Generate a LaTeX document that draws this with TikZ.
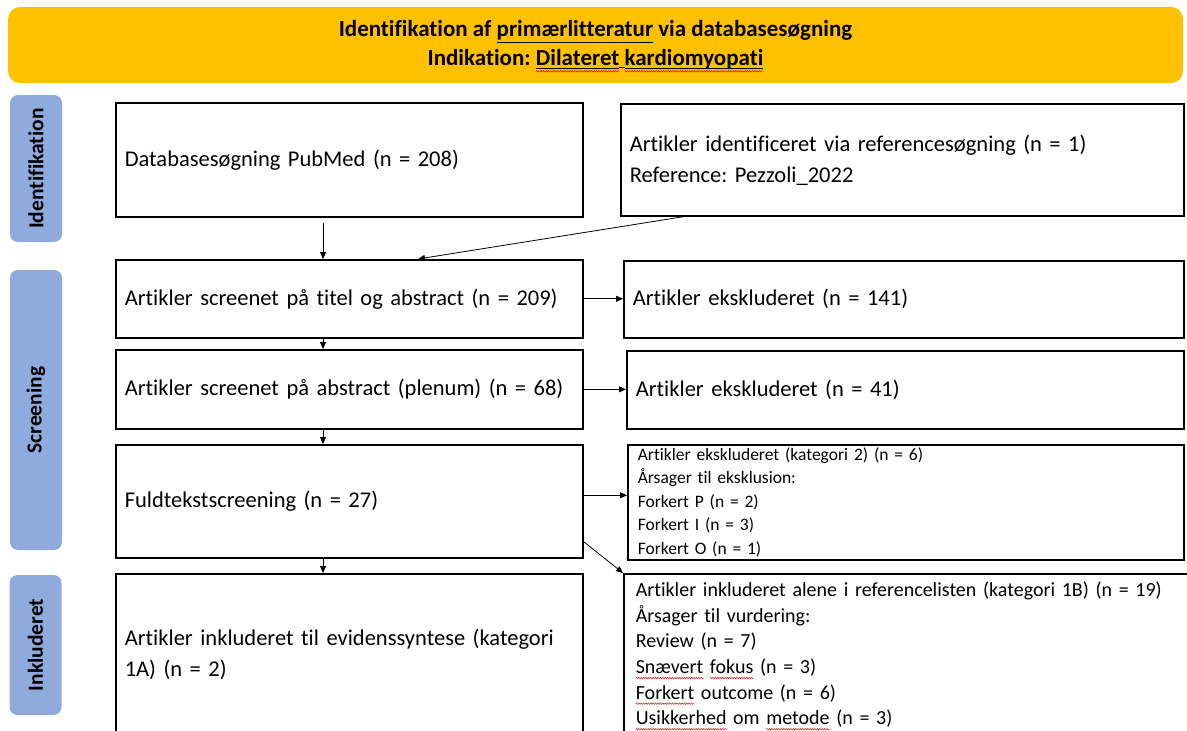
\documentclass[tikz,border=0pt]{standalone}
\usepackage{fontspec}
\setmainfont[Ligatures=NoCommon]{Carlito}
\usetikzlibrary{arrows.meta,decorations.pathmorphing}
\frenchspacing

\definecolor{headgold}{HTML}{FFC000}
\definecolor{phaseblue}{HTML}{8FAADC}

% red wavy spell-check underline (and a variant with a solid underline too)
\tikzset{
  plainword/.style={shape=rectangle, inner sep=0pt, outer sep=0pt, minimum width=0pt,
    minimum height=0pt, text width=, draw=none, fill=none, rotate=0, anchor=base,
    sharp corners},
  wavemark/.style={overlay, draw=red, fill=none, sharp corners, line width=0.45pt, decorate,
    decoration={zigzag, amplitude=0.8pt, segment length=2.4pt}},
  solidmark/.style={overlay, draw=black, fill=none, sharp corners, line width=1.1pt},
}
\newcommand\spellmark[1]{\tikz[baseline=(w.base)]{\node[plainword] (w) {#1};
  \path[wavemark] ([yshift=-4.5pt]w.base west) -- ([yshift=-4.5pt]w.base east);}}
\newcommand\spellul[1]{\tikz[baseline=(w.base)]{\node[plainword] (w) {#1};
  \path[solidmark] ([yshift=-2.6pt]w.base west) -- ([yshift=-2.6pt]w.base east);
  \path[wavemark] ([yshift=-5.5pt]w.base west) -- ([yshift=-5.5pt]w.base east);}}

\tikzset{
  flowbox/.style={draw, line width=1.6pt, anchor=north west, inner xsep=9pt,
    inner ysep=0pt, align=left, font=\fontsize{22.5}{26}\selectfont},
  phase/.style={fill=phaseblue, rounded corners=8pt, rotate=90,
    minimum height=52pt, inner sep=0pt, font=\bfseries\fontsize{21.5}{24}\selectfont},
  flow/.style={-{Triangle[length=7pt,width=6pt]}, line width=0.8pt},
}

\begin{document}
\begin{tikzpicture}[x=1pt, y=-1pt]
\useasboundingbox (0,0) rectangle (1187,731);

% title banner
\node[fill=headgold, rounded corners=12pt, minimum width=1175pt, minimum height=76pt,
  align=center, font=\bfseries\fontsize{23}{29}\selectfont] (head) at (595.5,45)
  {Identifikation af \underline{primærlitteratur} via databasesøgning\\
   Indikation: \spellul{Dilateret}\underline{\ }\spellul{kardiomyopati}};

% phase labels
\node[phase, minimum width=147pt] (pid) at (36,168.5) {Identifikation};
\node[phase, minimum width=280pt] (psc) at (36,410) {Screening};
\node[phase, minimum width=140pt] (pin) at (35.5,645) {Inkluderet};

% left column
\node[flowbox, text width=449pt, minimum height=114pt] (db) at (115,102)
  {Databasesøgning PubMed (n = 208)};
\node[flowbox, text width=449pt, minimum height=78pt] (scr1) at (115,259)
  {Artikler screenet på titel og abstract (n = 209)};
\node[flowbox, text width=449pt, minimum height=79pt] (scr2) at (115,349)
  {Artikler screenet på abstract (plenum) (n = 68)};
\node[flowbox, text width=449pt, minimum height=113pt] (full) at (115,444)
  {Fuldtekstscreening (n = 27)};
\node[flowbox, text width=449pt, minimum height=161pt,
  font=\fontsize{22.5}{31}\selectfont] (incl) at (115,573)
  {Artikler inkluderet til evidenssyntese (kategori\\ 1A) (n = 2)};

% right column
\node[flowbox, text width=545pt, minimum height=112pt,
  font=\fontsize{22.5}{31}\selectfont] (ref) at (620,103)
  {Artikler identificeret via referencesøgning (n = 1)\\ Reference: Pezzoli\_2022};
\node[flowbox, text width=542pt, minimum height=77pt] (ex1) at (623,260)
  {Artikler ekskluderet (n = 141)};
\node[flowbox, text width=539pt, minimum height=78pt] (ex2) at (626,350)
  {Artikler ekskluderet (n = 41)};
\node[flowbox, text width=536pt, minimum height=115pt, inner xsep=10pt,
  font=\fontsize{17.5}{23.5}\selectfont] (ex3) at (627,444)
  {Artikler ekskluderet (kategori 2) (n = 6)\\
   Årsager til eksklusion:\\
   Forkert P (n = 2)\\
   Forkert I (n = 3)\\
   Forkert O (n = 1)};
\node[flowbox, text width=560pt, minimum height=162pt, inner xsep=12pt,
  font=\fontsize{20}{25.6}\selectfont] (cat1b) at (623,573)
  {Artikler inkluderet alene i referencelisten (kategori 1B) (n = 19)\\
   Årsager til vurdering:\\
   Review (n = 7)\\
   \spellmark{Snævert} \spellmark{fokus} (n = 3)\\
   \spellmark{Forkert} outcome (n = 6)\\
   \spellmark{Usikkerhed} om \spellmark{metode} (n = 3)};

% connectors
\draw[flow] ([xshift=208pt,yshift=-5pt]db.south west) -- ([xshift=208pt]scr1.north west);
\draw[flow] ([xshift=64pt]ref.south west) -- ([xshift=303pt]scr1.north west);
\draw[flow] (scr1.east) -- (scr1.east -| ex1.west);
\draw[flow] ([xshift=208pt]scr1.south west) -- ([xshift=208pt]scr2.north west);
\draw[flow] (scr2.east) -- (scr2.east -| ex2.west);
\draw[flow] ([xshift=208pt]scr2.south west) -- ([xshift=208pt]full.north west);
\draw[flow] ([yshift=6pt]full.east) -- ([yshift=6pt]full.east -| ex3.west);
\draw[flow] ([yshift=17pt]full.south east) -- (cat1b.north west);
\draw[flow] ([xshift=208pt]full.south west) -- ([xshift=208pt]incl.north west);
\end{tikzpicture}
\end{document}
